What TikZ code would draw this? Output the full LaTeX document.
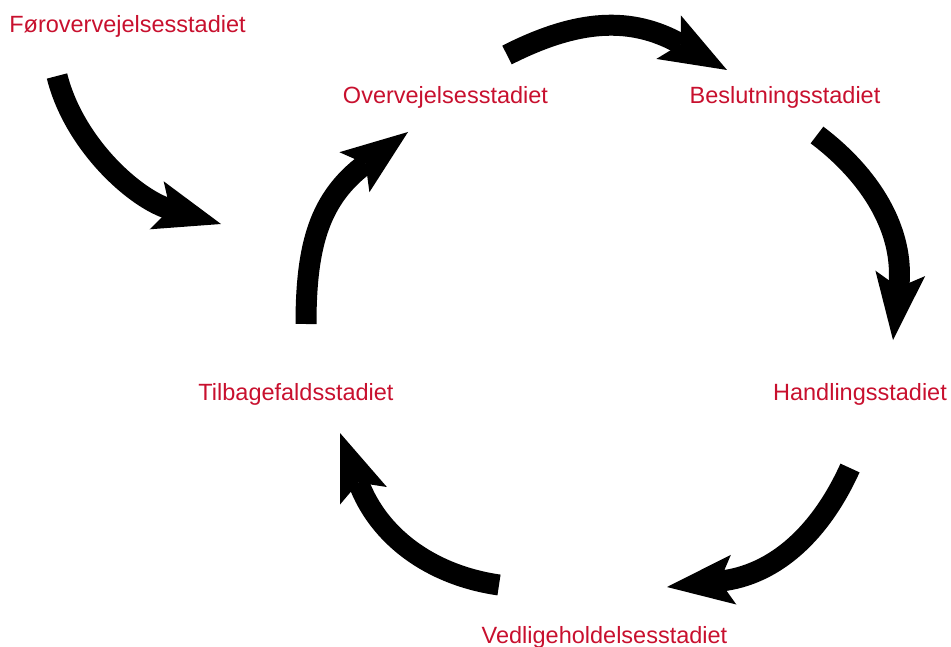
\documentclass[tikz,border=0pt]{standalone}
\usepackage{fontspec}
\setmainfont{Liberation Sans}
\usetikzlibrary{arrows.meta}
\definecolor{stagered}{RGB}{200,16,46}
\tikzset{
  stage/.style={text=stagered, inner sep=0pt, anchor=base, font=\fontsize{23.5}{28}\selectfont},
  bigarrow/.style={line width=21pt, draw=black,
    -{Stealth[length=67pt, width=50pt, inset=14pt, line width=0pt]}}
}
\begin{document}
\begin{tikzpicture}[x=1pt, y=-1pt]
\useasboundingbox (0,0) rectangle (951,647);

\node[stage] (pre)  at (127.5,33)  {Førovervejelsesstadiet};
\node[stage] (cont) at (445.5,104) {Overvejelsesstadiet};
\node[stage] (prep) at (785,104)   {Beslutningsstadiet};
\node[stage] (act)  at (860,400)   {Handlingsstadiet};
\node[stage] (main) at (604.5,643) {Vedligeholdelsesstadiet};
\node[stage] (rel)  at (296,400)   {Tilbagefaldsstadiet};

\coordinate (a1s) at (57,76);   \coordinate (a1e) at (221,224);
\coordinate (a2s) at (507,55);  \coordinate (a2e) at (727,70);
\coordinate (a3s) at (817,135); \coordinate (a3e) at (893,340);
\coordinate (a4s) at (850,468); \coordinate (a4e) at (667,587);
\coordinate (a5s) at (499,585); \coordinate (a5e) at (340,433);
\coordinate (a6s) at (306,324); \coordinate (a6e) at (408,132);

\draw[bigarrow] (a1s) .. controls (74,144) and (135,199) .. (a1e);
\draw[bigarrow] (a2s) .. controls (578,19) and (631,16) .. (a2e);
\draw[bigarrow] (a3s) .. controls (870,175) and (905,230) .. (a3e);
\draw[bigarrow] (a4s) .. controls (821,532) and (776,575) .. (a4e);
\draw[bigarrow] (a5s) .. controls (430,575) and (378.5,536) .. (a5e);
\draw[bigarrow] (a6s) .. controls (306,244) and (320,198) .. (a6e);
\end{tikzpicture}
\end{document}
